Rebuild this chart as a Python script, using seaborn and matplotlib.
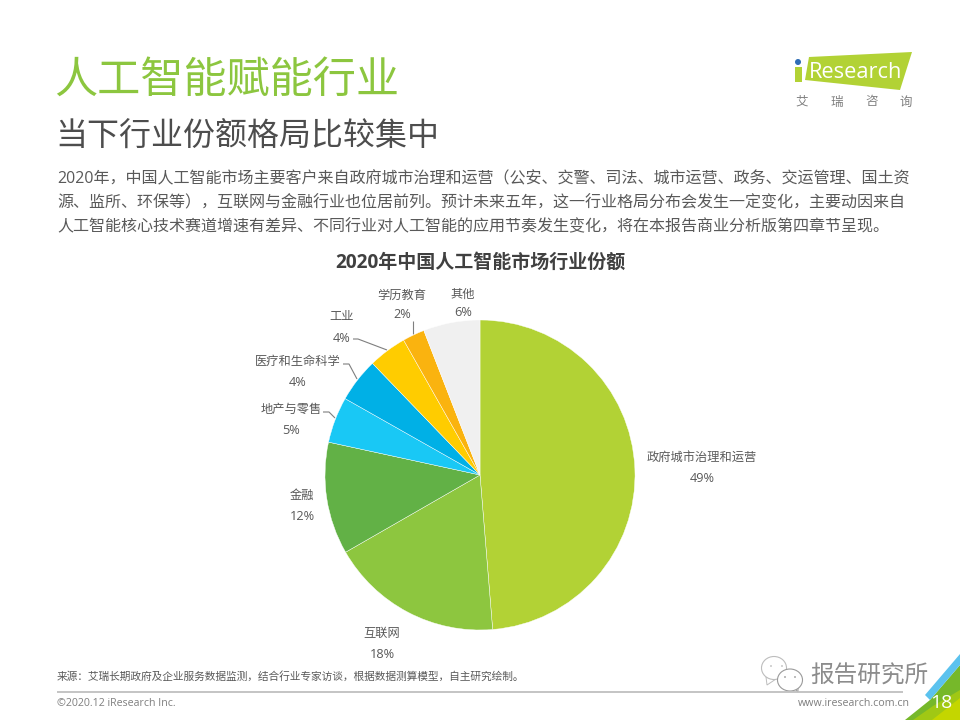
import matplotlib
matplotlib.use("Agg")
import matplotlib.pyplot as plt
from matplotlib.patches import Polygon, Circle, Ellipse
import seaborn as sns

sns.set_theme(style="white")
plt.rcParams['font.family'] = ['Open Sans', 'Noto Sans CJK SC', 'DejaVu Sans']

categories = ["政府城市治理和运营", "互联网", "金融", "地产与零售", "医疗和生命科学", "工业", "学历教育", "其他"]
shares = [48.7, 18.0, 11.7, 4.8, 4.6, 4.0, 2.3, 5.9]
share_labels = ["49%", "18%", "12%", "5%", "4%", "4%", "2%", "6%"]
colors = ["#B2D235", "#8DC63F", "#62B146", "#19C8F5", "#00B0E6", "#FFCC00", "#FAB30F", "#F0F0F0"]
label_xy = [(702, 456), (382, 632), (302, 494), (291, 408), (298, 360), (342, 316), (402, 294), (463, 293)]

title = "人工智能赋能行业"
subtitle = "当下行业份额格局比较集中"
body = [
    "2020年，中国人工智能市场主要客户来自政府城市治理和运营（公安、交警、司法、城市运营、政务、交运管理、国土资",
    "源、监所、环保等），互联网与金融行业也位居前列。预计未来五年，这一行业格局分布会发生一定变化，主要动因来自",
    "人工智能核心技术赛道增速有差异、不同行业对人工智能的应用节奏发生变化，将在本报告商业分析版第四章节呈现。",
]
chart_title = "2020年中国人工智能市场行业份额"
source = "来源：艾瑞长期政府及企业服务数据监测，结合行业专家访谈，根据数据测算模型，自主研究绘制。"

W, H = 960, 720
fig = plt.figure(figsize=(9.6, 7.2), dpi=100, facecolor="white")
bg = fig.add_axes([0, 0, 1, 1])
bg.set_xlim(0, W); bg.set_ylim(H, 0); bg.axis("off")

TXT = "#595959"
bg.text(54.5, 81, title, fontsize=31.1, color="#8CC63F", va="center", ha="left")
bg.text(55.5, 137, subtitle, fontsize=23, color="#4D4D4D", va="center", ha="left")
for y, line in zip([179, 203, 227], body):
    bg.text(57, y, line, fontsize=11.56, color=TXT, va="center", ha="left")
bg.text(480, 263, chart_title, fontsize=13.7, color="#404040", va="center", ha="center", fontweight="bold")

# pie
R = 155
cx, cy = 480, 475
pax = fig.add_axes([(cx - R) / W, 1 - (cy + R) / H, 2 * R / W, 2 * R / H])
pax.pie(shares, colors=colors, startangle=90, counterclock=False, radius=1,
        wedgeprops=dict(linewidth=0.3, edgecolor="white"))
pax.set_xlim(-1, 1); pax.set_ylim(-1, 1); pax.set_aspect("equal"); pax.axis("off")

for name, lab, (x, y) in zip(categories, share_labels, label_xy):
    bg.text(x, y + 1, name, fontsize=8.8, color=TXT, ha="center", va="center")
    bg.text(x, y + (20 if name in ("学历教育", "其他") else 22), lab,
            fontsize=9.2, color=TXT, ha="center", va="center")

for xs, ys in [([353, 358, 387], [339, 339, 350]),
               ([343, 349, 357], [364, 364, 379]),
               ([323, 329, 335], [412, 412, 418]),
               ([413, 413], [321, 334])]:
    bg.plot(xs, ys, color="#7F7F7F", lw=0.8, solid_capstyle="butt")

# logo
bg.add_patch(Polygon([[809, 57], [912, 52], [900, 90], [805, 80]], closed=True, fc="#B2D235", ec="none"))
bg.add_patch(Polygon([[795, 67], [802, 67], [802, 82], [795, 82]], closed=True, fc="#B2D235", ec="none"))
bg.add_patch(Circle((798, 62), 3, fc="#2F6DB5", ec="none"))
bg.text(809, 72, "Research", fontsize=15.7, color="white", ha="left", va="center")
for x, ch in zip([802, 837, 872, 906], "艾瑞咨询"):
    bg.text(x, 102, ch, fontsize=9, color="#7F7F7F", ha="center", va="center")

# footer
bg.text(57, 677, source, fontsize=7.7, color=TXT, ha="left", va="center")
bg.plot([57, 903], [692, 692], color="#BFBFBF", lw=1.3, solid_capstyle="butt")
bg.text(57, 704, "©2020.12 iResearch Inc.", fontsize=7.7, color="#7F7F7F", ha="left", va="center")
bg.text(910, 704, "www.iresearch.com.cn", fontsize=7.7, color="#7F7F7F", ha="right", va="center")

bg.add_patch(Polygon([[905, 720], [930, 700], [960, 665], [960, 720]], closed=True, fc="#76B82A", ec="none"))
bg.add_patch(Polygon([[925, 695], [960, 654], [960, 665], [930, 700]], closed=True, fc="#5BC2EE", ec="none"))
bg.add_patch(Polygon([[913, 720], [933, 706], [960, 690], [960, 720]], closed=True, fc="#A0C814", ec="none"))
bg.add_patch(Polygon([[932, 720], [960, 698], [960, 720]], closed=True, fc="#C4D600", ec="none"))
bg.text(941, 703, "18", fontsize=14, color="white", ha="center", va="center")

# watermark
bg.add_patch(Polygon([[766, 677], [767, 685], [776, 679]], closed=True, fc="white", ec="#BDBDBD", lw=0.7))
bg.add_patch(Ellipse((774, 668), 25, 23, fc="white", ec="#BDBDBD", lw=0.8))
bg.add_patch(Polygon([[793, 687], [798, 692], [798, 686]], closed=True, fc="white", ec="#9A9A9A", lw=0.7))
bg.add_patch(Ellipse((790, 680), 25, 22, fc="white", ec="#9A9A9A", lw=0.8))
for px, py, c in [(771, 666, "#BDBDBD"), (782, 666, "#BDBDBD"), (785, 677, "#9A9A9A"), (795, 677, "#9A9A9A")]:
    bg.add_patch(Circle((px, py), 0.9, fc=c, ec="none"))
bg.text(869.5, 677, "报告研究所", fontsize=17, color="#8C8C8C", ha="center", va="center")

fig.savefig("out.png", dpi=100, facecolor="white")
